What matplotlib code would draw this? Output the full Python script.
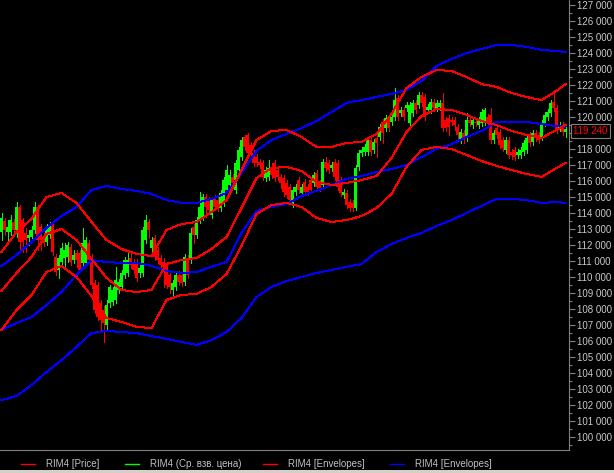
import matplotlib
matplotlib.use("Agg")
import matplotlib.pyplot as plt
from matplotlib.ticker import MultipleLocator, FuncFormatter
from matplotlib.lines import Line2D
from matplotlib.patches import Rectangle

plt.rcParams['font.family'] = ['Liberation Sans', 'DejaVu Sans']

# RIM4 candles, prices in thousands of points
opens = [112.81, 113.50, 112.81, 112.81, 113.44, 112.94, 114.38, 113.56, 112.75, 112.44,
         112.50, 112.94, 114.38, 113.13, 112.50, 112.19, 112.63, 113.25, 111.25, 110.44,
         110.94, 111.19, 111.25, 111.88, 111.06, 111.50, 111.50, 110.88, 110.88, 112.13,
         111.25, 109.63, 109.50, 108.38, 107.94, 107.00, 108.38, 108.44, 108.56, 109.19,
         109.38, 110.13, 110.25, 111.19, 110.94, 110.94, 110.25, 110.25, 112.31, 113.44,
         111.81, 112.44, 111.69, 111.19, 110.94, 110.75, 110.13, 109.19, 109.38, 110.13,
         110.13, 109.69, 111.19, 111.06, 113.13, 112.63, 113.56, 113.75, 115.00, 114.81,
         113.88, 114.94, 114.81, 114.31, 114.63, 115.44, 115.75, 116.25, 115.44, 116.69,
         117.50, 118.75, 118.88, 118.25, 117.75, 117.50, 117.19, 117.13, 116.19, 116.25,
         116.81, 117.13, 116.69, 116.25, 116.19, 115.88, 115.63, 114.63, 115.31, 116.06,
         115.25, 115.94, 115.63, 116.06, 115.88, 116.50, 115.88, 115.75, 117.19, 117.13,
         116.81, 117.19, 117.13, 116.06, 115.13, 115.25, 114.69, 114.63, 114.31, 116.88,
         117.75, 117.81, 117.81, 118.56, 117.94, 118.69, 118.75, 119.69, 119.31, 119.81,
         119.69, 120.00, 121.19, 120.25, 120.44, 120.56, 119.63, 120.25, 120.88, 120.75,
         121.38, 121.25, 120.44, 120.44, 120.94, 120.56, 120.63, 120.88, 119.81, 119.94,
         119.81, 119.81, 119.38, 118.56, 119.00, 118.69, 119.81, 119.50, 119.69, 119.50,
         119.63, 119.69, 120.00, 120.13, 118.56, 119.31, 119.06, 118.56, 117.94, 118.56,
         117.81, 117.94, 117.63, 117.63, 117.81, 117.94, 118.88, 118.44, 119.00, 118.88,
         118.75, 119.63, 120.00, 120.25, 120.94, 120.56, 119.31, 119.50, 119.06]

closes = [113.69, 112.94, 113.13, 113.56, 112.94, 114.38, 112.19, 112.19, 112.31, 112.63,
          112.94, 114.38, 112.31, 112.31, 112.13, 113.13, 113.25, 111.56, 110.31, 111.19,
          111.81, 111.69, 112.00, 110.94, 111.38, 111.06, 110.44, 112.13, 112.31, 111.06,
          109.50, 107.94, 107.50, 107.31, 107.13, 108.25, 109.38, 109.19, 109.81, 109.69,
          110.25, 111.06, 111.06, 110.75, 110.44, 109.94, 110.56, 112.94, 113.56, 112.94,
          112.31, 111.25, 111.06, 110.75, 110.63, 109.50, 109.38, 109.63, 110.13, 109.69,
          109.63, 111.25, 110.13, 112.75, 112.63, 113.56, 114.38, 115.00, 114.38, 114.19,
          114.81, 114.38, 114.31, 115.25, 116.06, 116.69, 116.38, 115.88, 117.13, 117.94,
          118.56, 118.13, 117.75, 117.63, 117.13, 117.13, 117.00, 116.25, 116.69, 116.81,
          116.38, 116.19, 116.25, 115.88, 115.31, 115.13, 114.81, 115.44, 115.63, 115.44,
          115.63, 115.31, 115.31, 115.44, 116.38, 115.63, 115.56, 117.19, 116.81, 116.69,
          117.00, 116.25, 115.63, 115.25, 115.31, 114.50, 114.31, 114.31, 116.81, 117.75,
          117.94, 118.13, 118.56, 117.81, 118.44, 118.38, 119.38, 119.00, 119.94, 119.31,
          120.00, 121.06, 120.00, 120.44, 120.00, 120.75, 120.75, 120.88, 120.44, 121.38,
          120.88, 120.00, 120.63, 120.94, 120.56, 120.88, 120.88, 119.31, 119.31, 119.38,
          119.69, 119.50, 118.88, 119.06, 118.56, 119.81, 119.63, 119.81, 119.63, 119.81,
          120.31, 120.44, 119.63, 118.56, 119.00, 118.88, 118.25, 118.06, 118.56, 117.63,
          117.63, 117.50, 117.81, 117.94, 118.38, 118.69, 118.38, 119.00, 118.69, 118.56,
          119.63, 120.13, 120.31, 120.88, 120.56, 119.19, 119.50, 119.06, 119.24]

highs = [114.00, 113.69, 113.56, 113.88, 113.63, 114.69, 114.50, 113.69, 113.06, 112.94,
         113.19, 114.69, 114.50, 113.31, 112.75, 113.31, 113.44, 113.44, 111.44, 111.38,
         112.13, 112.13, 112.19, 112.06, 111.69, 111.69, 111.69, 113.06, 112.50, 112.31,
         111.44, 109.81, 109.69, 108.56, 108.19, 108.56, 109.50, 109.38, 110.63, 109.88,
         110.44, 111.25, 111.56, 111.56, 111.13, 111.13, 110.88, 113.13, 113.88, 113.63,
         112.50, 112.63, 111.88, 111.38, 111.19, 110.94, 110.31, 109.81, 110.31, 110.38,
         110.31, 111.44, 111.38, 113.06, 113.31, 113.75, 115.31, 115.19, 115.19, 115.00,
         115.00, 115.13, 115.00, 115.44, 116.25, 117.00, 116.69, 116.44, 117.31, 118.13,
         118.75, 118.88, 119.00, 118.44, 117.94, 117.69, 117.38, 117.31, 116.88, 117.31,
         117.13, 117.31, 116.88, 116.44, 116.38, 116.06, 115.81, 115.63, 115.81, 116.25,
         115.81, 116.13, 115.81, 116.25, 116.56, 116.69, 116.06, 117.38, 117.50, 117.31,
         117.19, 117.38, 117.31, 116.25, 115.50, 115.44, 114.88, 114.81, 117.00, 117.94,
         118.13, 118.31, 118.75, 118.75, 118.63, 118.88, 119.56, 119.88, 120.13, 120.00,
         120.19, 121.81, 121.38, 120.63, 120.63, 120.94, 120.94, 121.06, 121.06, 121.56,
         121.56, 121.44, 120.81, 121.13, 121.13, 121.06, 121.06, 121.50, 120.00, 120.13,
         120.00, 120.00, 119.56, 119.25, 119.19, 120.25, 120.00, 120.00, 119.88, 120.00,
         120.50, 120.56, 120.19, 120.56, 119.19, 119.50, 119.25, 118.75, 118.75, 118.75,
         118.00, 118.13, 118.00, 118.13, 118.56, 118.88, 119.06, 119.19, 119.19, 119.06,
         119.81, 120.31, 120.50, 121.06, 121.69, 120.75, 119.69, 119.69, 119.38]

lows = [112.31, 112.63, 112.31, 112.63, 112.75, 112.50, 111.69, 111.56, 111.56, 112.00,
        112.31, 112.75, 111.69, 111.69, 111.94, 112.00, 112.44, 111.38, 110.13, 109.94,
        110.75, 110.63, 110.94, 110.75, 110.88, 110.63, 110.31, 110.69, 110.69, 110.88,
        109.31, 107.75, 107.31, 106.69, 105.94, 106.69, 108.13, 108.25, 108.38, 109.00,
        109.19, 109.94, 110.06, 110.56, 110.25, 109.75, 110.00, 110.06, 112.13, 112.44,
        111.56, 111.06, 110.88, 110.56, 109.38, 109.31, 109.00, 108.88, 109.19, 109.50,
        109.44, 109.50, 109.94, 110.88, 112.13, 112.44, 113.38, 113.56, 113.75, 114.00,
        113.69, 114.19, 114.13, 114.13, 114.44, 115.25, 115.56, 115.69, 115.25, 116.50,
        117.31, 117.94, 117.56, 117.44, 116.94, 116.94, 116.81, 116.06, 116.00, 116.06,
        116.19, 116.00, 116.06, 115.56, 115.06, 114.94, 114.63, 114.38, 115.13, 115.25,
        115.06, 115.13, 115.13, 115.25, 115.69, 115.44, 115.38, 115.56, 116.63, 116.50,
        116.63, 116.06, 115.44, 115.06, 114.94, 114.31, 114.13, 114.13, 114.19, 116.69,
        117.56, 117.63, 117.63, 117.63, 117.75, 117.50, 118.56, 118.38, 119.13, 119.13,
        119.50, 119.81, 119.81, 120.06, 119.81, 120.38, 119.44, 120.06, 120.25, 120.56,
        120.69, 119.81, 120.25, 120.25, 120.38, 120.38, 120.44, 119.13, 119.13, 118.88,
        119.50, 119.19, 118.69, 118.38, 118.38, 118.50, 119.44, 119.31, 119.44, 119.31,
        119.44, 119.50, 119.44, 118.38, 118.38, 118.69, 118.06, 117.88, 117.75, 117.44,
        117.38, 117.31, 117.44, 117.44, 117.63, 117.75, 118.19, 118.25, 118.50, 118.38,
        118.56, 119.44, 119.81, 120.06, 120.38, 119.00, 119.13, 118.88, 118.75]

# indicator lines, sampled every 5 bars
line_idx = [0, 5, 10, 15, 20, 25, 30, 35, 40, 45, 50, 55, 60, 65, 70, 75, 80, 85, 90,
            95, 100, 105, 110, 115, 120, 125, 130, 135, 140, 145, 150, 155, 160, 165,
            170, 175, 180, 185, 188]
env_red_up = [111.56, 112.81, 113.63, 115.00, 115.25, 114.63, 113.44, 112.31, 111.75, 111.44,
              111.31, 112.94, 113.31, 113.44, 114.06, 114.81, 116.69, 118.56, 119.13, 119.19,
              118.75, 118.13, 118.13, 118.38, 118.44, 118.94, 120.19, 121.81, 122.50, 122.94,
              122.88, 122.50, 122.06, 121.88, 121.50, 121.25, 121.06, 121.63, 122.06]
env_red_mid = [109.13, 110.25, 111.25, 112.69, 113.00, 112.31, 111.13, 109.94, 109.19, 109.06,
               109.19, 110.81, 111.06, 111.19, 111.75, 112.50, 114.31, 116.19, 116.81, 116.88,
               116.63, 115.94, 115.75, 115.88, 116.06, 116.31, 117.44, 119.06, 120.06, 120.50,
               120.44, 120.13, 119.75, 119.50, 119.13, 118.88, 118.69, 119.19, 119.50]
env_red_low = [106.69, 107.94, 108.88, 110.31, 110.69, 110.00, 108.81, 107.44, 107.19, 106.88,
               106.81, 108.56, 108.88, 108.94, 109.38, 110.19, 111.94, 113.94, 114.50, 114.63,
               114.38, 113.69, 113.44, 113.56, 113.81, 114.31, 115.19, 116.88, 117.94, 118.13,
               118.00, 117.63, 117.25, 116.94, 116.69, 116.44, 116.25, 116.81, 117.13]
env_blue_up = [110.69, 111.38, 112.19, 113.06, 113.81, 114.38, 115.44, 115.69, 115.50, 115.38,
               115.19, 114.81, 114.63, 114.63, 114.88, 115.25, 116.50, 117.88, 118.56, 118.94,
               119.31, 119.75, 120.31, 120.88, 121.06, 121.25, 121.44, 121.69, 122.25, 123.19,
               123.63, 124.00, 124.25, 124.50, 124.50, 124.38, 124.19, 124.13, 124.06]
env_blue_mid = [106.69, 107.13, 107.50, 108.25, 109.06, 110.13, 111.06, 110.94, 110.88, 110.88,
                110.69, 110.38, 110.25, 110.31, 110.63, 110.94, 112.75, 114.13, 114.38, 114.56,
                115.06, 115.38, 115.75, 116.13, 116.31, 116.56, 116.75, 117.00, 117.50, 118.00,
                118.31, 118.75, 119.13, 119.69, 119.69, 119.69, 119.56, 119.44, 119.38]
env_blue_low = [102.31, 102.56, 103.25, 104.06, 104.81, 105.63, 106.50, 106.63, 106.56, 106.50,
                106.31, 106.13, 105.94, 105.75, 106.06, 106.56, 107.44, 108.75, 109.38, 109.75,
                110.00, 110.25, 110.44, 110.63, 110.81, 111.56, 112.06, 112.44, 112.75, 113.19,
                113.56, 114.00, 114.44, 114.88, 114.88, 114.81, 114.63, 114.69, 114.63]

legend_labels = ["RIM4 [Price]", "RIM4 (Ср. взв. цена)", "RIM4 [Envelopes]", "RIM4 [Envelopes]"]
legend_colors = ["#ff0000", "#00ff00", "#ff0000", "#0000ff"]

W, H = 614, 473
fig = plt.figure(figsize=(W / 100, H / 100), dpi=100, facecolor="black")
ax = fig.add_axes([0, 1 - 450 / H, 569 / W, 450 / H])
ax.set_facecolor("black")

up_col = "#00ff00"
dn_col = "#ff0000"
for i in range(len(opens)):
    o, c = opens[i], closes[i]
    col = up_col if c >= o else dn_col
    ax.vlines(i, lows[i], highs[i], color=col, lw=0.72, antialiased=False, zorder=2)
    ax.bar(i, max(abs(c - o), 0.04), bottom=min(o, c), width=0.68, color=col,
           lw=0, antialiased=False, zorder=2)

for vals, col in [(env_blue_up, "#0000ff"), (env_blue_mid, "#0000ff"), (env_blue_low, "#0000ff"),
                  (env_red_up, "#ff0000"), (env_red_mid, "#ff0000"), (env_red_low, "#ff0000")]:
    ax.plot(line_idx, vals, color=col, lw=0.72, antialiased=False, zorder=3)

ax.set_xlim(-0.5, (569 - 1.5) / 3)
ax.set_ylim(99.1875, 127.3125)

last_k = round(closes[-1])


def price_label(v, pos):
    # the 119 000 label sits under the last-price box, so it is not shown
    if round(v) == last_k:
        return ""
    return f"{int(round(v * 1000)):,}".replace(",", " ")


ax.set_xticks([])
ax.yaxis.tick_right()
ax.yaxis.set_major_locator(MultipleLocator(1))
ax.yaxis.set_minor_locator(MultipleLocator(0.5))
ax.yaxis.set_major_formatter(FuncFormatter(price_label))
ax.tick_params(axis="y", which="major", length=4, width=0.8, color="#808080",
               labelcolor="#c8c8c8", labelsize=7, pad=2)
ax.tick_params(axis="y", which="minor", length=2, width=0.8, color="#808080")
for s in ["top", "left"]:
    ax.spines[s].set_visible(False)
for s in ["right", "bottom"]:
    ax.spines[s].set_color("#808080")
    ax.spines[s].set_linewidth(0.8)

# last price box
fig.text(573 / W, 1 - 131 / H, f"{int(round(closes[-1] * 1000)):,}".replace(",", " "),
         color="#ff0000", fontsize=7, ha="left", va="center", zorder=10,
         bbox=dict(facecolor="black", edgecolor="#808080", boxstyle="square,pad=0.25", lw=0.8))

# legend strip
leg_x = [21, 125, 263, 390]
for x0, lab, col in zip(leg_x, legend_labels, legend_colors):
    fig.add_artist(Line2D([x0 / W, (x0 + 14) / W], [1 - 464 / H, 1 - 464 / H],
                          color=col, lw=1, transform=fig.transFigure))
    fig.text((x0 + 25) / W, 1 - 464 / H, lab, color="#c0c0c0", fontsize=7,
             ha="left", va="center")

fig.patches.append(Rectangle((0, 0), 1, 3 / H, transform=fig.transFigure,
                             facecolor="#d4d0c8", edgecolor="none"))

fig.savefig("out.png", dpi=100, facecolor="black")
